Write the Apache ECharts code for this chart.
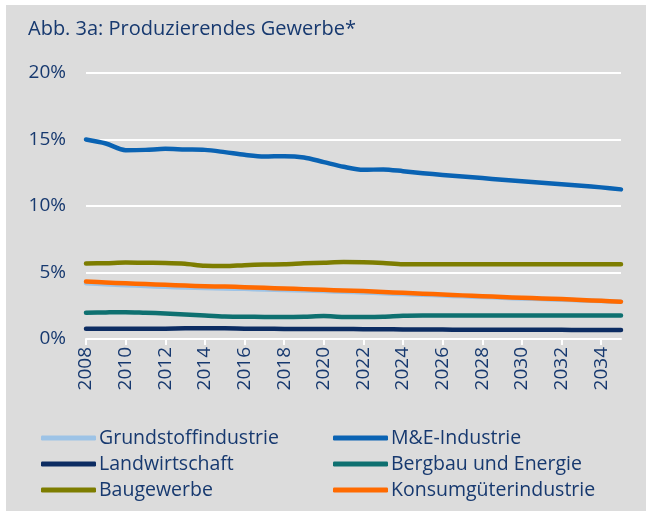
<!DOCTYPE html>
<html>
<head>
<meta charset="utf-8">
<script src="https://cdn.jsdelivr.net/npm/echarts@6/dist/echarts.min.js"></script>
<style>
  body { margin: 0; background: #ffffff; }
  #main { position: absolute; left: 6px; top: 5px; width: 640px; height: 506px; background: #dcdcdc; }
</style>
</head>
<body>
<div id="main"></div>
<script>
// Jahre 2008-2035
const years = [];
for (let y = 2008; y <= 2035; y++) years.push(String(y));

const grundstoff = [4.20, 4.12, 4.05, 3.98, 3.92, 3.88, 3.84, 3.80, 3.77, 3.72, 3.68, 3.64, 3.60, 3.55,
  3.50, 3.44, 3.38, 3.33, 3.27, 3.21, 3.16, 3.10, 3.04, 3.00, 2.95, 2.90, 2.85, 2.80];
const meIndustrie = [15.0, 14.7, 14.2, 14.22, 14.3, 14.25, 14.22, 14.05, 13.85, 13.72, 13.75, 13.65, 13.3, 12.95,
  12.72, 12.75, 12.62, 12.47, 12.33, 12.22, 12.1, 11.97, 11.86, 11.75, 11.64, 11.52, 11.4, 11.25];
const landwirtschaft = [0.78, 0.78, 0.78, 0.78, 0.78, 0.80, 0.80, 0.80, 0.78, 0.77, 0.76, 0.75, 0.75, 0.75,
  0.74, 0.73, 0.72, 0.72, 0.71, 0.70, 0.70, 0.70, 0.70, 0.69, 0.69, 0.68, 0.68, 0.68];
const bergbau = [1.97, 2.00, 2.02, 1.97, 1.92, 1.85, 1.77, 1.70, 1.67, 1.66, 1.65, 1.67, 1.72, 1.65,
  1.65, 1.67, 1.75, 1.77, 1.77, 1.77, 1.77, 1.77, 1.77, 1.77, 1.77, 1.77, 1.77, 1.77];
const baugewerbe = [5.68, 5.70, 5.75, 5.73, 5.72, 5.66, 5.50, 5.48, 5.55, 5.60, 5.62, 5.69, 5.74, 5.79,
  5.78, 5.72, 5.62, 5.62, 5.62, 5.62, 5.62, 5.62, 5.62, 5.62, 5.62, 5.62, 5.62, 5.62];
const konsum = [4.32, 4.25, 4.19, 4.13, 4.07, 4.02, 3.97, 3.94, 3.90, 3.85, 3.80, 3.75, 3.70, 3.64,
  3.60, 3.53, 3.47, 3.41, 3.35, 3.28, 3.22, 3.16, 3.10, 3.05, 3.00, 2.93, 2.87, 2.80];

const names = ['Grundstoffindustrie', 'M&E-Industrie', 'Landwirtschaft', 'Bergbau und Energie', 'Baugewerbe', 'Konsumgüterindustrie'];
const values = [grundstoff, meIndustrie, landwirtschaft, bergbau, baugewerbe, konsum];
const colors = ['#9dc3e6', '#0a63b3', '#0c2c62', '#0e7070', '#7d7d00', '#ff6a00'];

const textColor = '#17396f';
const font = 'Open Sans';

// Legende: zwei Spalten, drei Zeilen
const legends = names.map(function (n, i) {
  return {
    data: [n],
    left: i % 2 === 0 ? 35 : 327,
    top: 423 + Math.floor(i / 2) * 26,
    icon: 'roundRect',
    itemWidth: 55,
    itemHeight: 5,
    itemGap: 0,
    padding: 0,
    textStyle: { color: textColor, fontSize: 19.5, fontFamily: font, padding: [0, 0, 0, -2] }
  };
});

const chart = echarts.init(document.getElementById('main'));
chart.setOption({
  animation: false,
  textStyle: { fontFamily: font },
  title: {
    text: 'Abb. 3a: Produzierendes Gewerbe*',
    left: 22,
    top: 14,
    padding: 0,
    textStyle: { color: textColor, fontSize: 20, fontWeight: 'normal', fontFamily: font }
  },
  legend: legends,
  grid: { left: 80, right: 25, top: 68, bottom: 172 },
  xAxis: {
    type: 'category',
    data: years,
    boundaryGap: false,
    axisLine: { lineStyle: { color: '#ffffff', width: 2 } },
    axisTick: { interval: 1, length: 6, lineStyle: { color: '#ffffff', width: 2 } },
    axisLabel: { interval: 1, rotate: 90, margin: 8, color: textColor, fontSize: 19, fontFamily: font }
  },
  yAxis: {
    type: 'value',
    min: 0,
    max: 20,
    interval: 5,
    axisLine: { show: false },
    axisTick: { show: false },
    axisLabel: { formatter: '{value}%', margin: 20, color: textColor, fontSize: 19, fontFamily: font },
    splitLine: { lineStyle: { color: '#ffffff', width: 2 } }
  },
  series: names.map(function (n, i) {
    return {
      name: n,
      type: 'line',
      data: values[i],
      smooth: 0.3,
      symbol: 'none',
      color: colors[i],
      lineStyle: { width: 4.5, color: colors[i], cap: 'round', join: 'round' }
    };
  })
});
</script>
</body>
</html>
